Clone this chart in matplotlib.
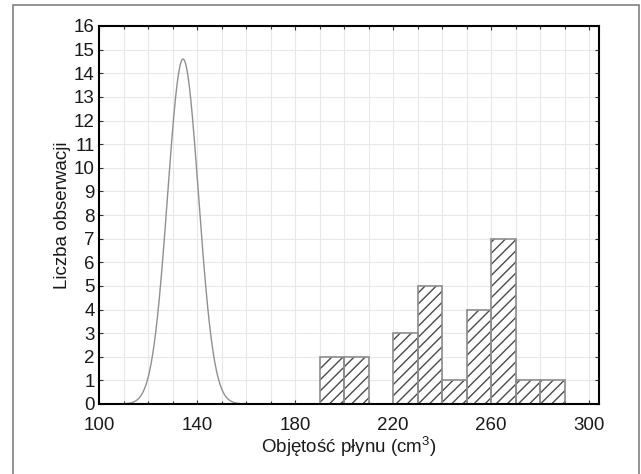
import numpy as np
import matplotlib
matplotlib.use("Agg")
import matplotlib.pyplot as plt
from matplotlib.patches import Rectangle

plt.rcParams['font.family'] = ['Liberation Sans', 'DejaVu Sans']
plt.rcParams['mathtext.fontset'] = 'custom'
plt.rcParams['mathtext.rm'] = 'Liberation Sans'
plt.rcParams['mathtext.it'] = 'Liberation Sans'
plt.rcParams['hatch.linewidth'] = 1.0

# Histogram data (bin left edges, counts)
bin_left = [190, 200, 210, 220, 230, 240, 250, 260, 270, 280]
counts = [2, 2, 0, 3, 5, 1, 4, 7, 1, 1]
bin_width = 10

# Fitted normal curve parameters
curve_mean = 134.3
curve_sd = 6.3
curve_peak = 14.6

x_ticks = [100, 140, 180, 220, 260, 300]
y_ticks = list(range(0, 17))

fig = plt.figure(figsize=(6.41, 4.74), dpi=100)
ax = fig.add_axes([99/641, 1-404/474, (599-99)/641, (404-26)/474])

ax.set_xlim(100, 304)
ax.set_ylim(0, 16)

# grid
ax.set_xticks(np.arange(100, 305, 10), minor=True)
ax.set_xticks(x_ticks)
ax.set_yticks(y_ticks)
ax.grid(True, which='both', color='#e8e8e8', linewidth=0.8)
ax.set_axisbelow(True)

# bars: hatch layer then outline
ax.bar(bin_left, counts, width=bin_width, align='edge', facecolor='white',
       edgecolor='#4a4a4a', hatch='///', linewidth=0, zorder=2)
ax.bar(bin_left, counts, width=bin_width, align='edge', fill=False,
       edgecolor='#8c8c8c', linewidth=1.2, zorder=3)

# normal curve
xc = np.linspace(100, 170, 400)
yc = curve_peak * np.exp(-0.5 * ((xc - curve_mean) / curve_sd) ** 2)
ax.plot(xc, yc, color='#909090', linewidth=1.0, zorder=4)

for s in ax.spines.values():
    s.set_linewidth(1.5)
    s.set_color('black')
    s.set_zorder(5)

ax.tick_params(which='both', direction='in', top=True, right=True,
               labelsize=13.5, length=3, width=0.8, color='#333333',
               labelcolor='#1a1a1a')
ax.tick_params(axis='x', pad=9)
ax.tick_params(axis='y', pad=3)
ax.tick_params(which='minor', length=2)

ax.set_xlabel('Objętość płynu (cm$^3$)', fontsize=13.5, labelpad=1,
              color='#1a1a1a')
ax.set_ylabel('Liczba obserwacji', fontsize=13.5, labelpad=2,
              color='#1a1a1a')

# outer frame
fig.patches.append(Rectangle((13/641, -0.01), (639-13)/641, 1 - 5/474 + 0.01,
                             transform=fig.transFigure, fill=False,
                             edgecolor='#808080', linewidth=1.2))

fig.savefig('out.png', dpi=100)
